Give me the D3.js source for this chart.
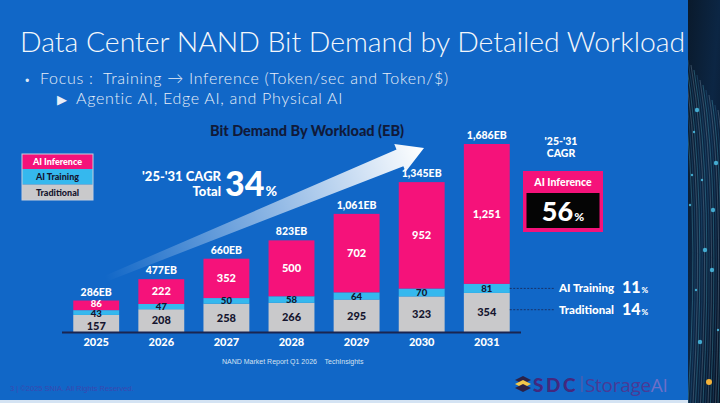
<!DOCTYPE html>
<html><head><meta charset="utf-8">
<script src="https://cdn.jsdelivr.net/npm/d3@7/dist/d3.min.js"></script>
<style>
html,body{margin:0;padding:0;background:#1167c7;overflow:hidden}
svg{display:block}
</style></head>
<body>
<svg id="c" width="720" height="403"></svg>
<script>
// ---- data ----
const years = ["2025","2026","2027","2028","2029","2030","2031"];
const traditional = [157,208,258,266,295,323,354];
const aiTraining = [43,47,50,58,64,70,81];
const aiInference = [86,222,352,500,702,952,1251];
const totalLabels = ["286EB","477EB","660EB","823EB","1,061EB","1,345EB","1,686EB"];
const seriesNames = ["Traditional","AI Training","AI Inference"];
const legendOrder = ["AI Inference","AI Training","Traditional"];
const cagrSeries = ["AI Training","Traditional"];
const cagrValues = [11,14];
const cagrInference = 56;
const cagrTotal = 34;

const colors = {"Traditional":"#c9c9cb","AI Training":"#35b8ee","AI Inference":"#f5127a"};
const textCol = {"Traditional":"#15152e","AI Training":"#15152e","AI Inference":"#ffffff"};
const BOLD = "Lato, 'Open Sans', sans-serif";

const svg = d3.select("#c");
const W = 720, H = 403;

// background
svg.append("rect").attr("width",W).attr("height",H).attr("fill","#1167c7");

// right decorative strip
const defs = svg.append("defs");
const sg = defs.append("linearGradient").attr("id","strip").attr("x1",0).attr("y1",0).attr("x2",1).attr("y2",1);
sg.append("stop").attr("offset","0%").attr("stop-color","#0a1a2c");
sg.append("stop").attr("offset","50%").attr("stop-color","#0c2644");
sg.append("stop").attr("offset","100%").attr("stop-color","#081426");
svg.append("rect").attr("x",688).attr("y",0).attr("width",32).attr("height",403).attr("fill","url(#strip)");
defs.append("clipPath").attr("id","stripClip").append("rect").attr("x",688).attr("y",0).attr("width",32).attr("height",403);
const strip = svg.append("g").attr("clip-path","url(#stripClip)");
for(let i=0;i<22;i++){
  strip.append("path")
    .attr("d",`M${676+i*3},${40+i*5} Q${702+i*2},${190} ${688+i*2.5},${403}`)
    .attr("fill","none").attr("stroke", i%3===0?"#5fd0e8":(i%3===1?"#3a7fb0":"#9bb6c8"))
    .attr("stroke-width",0.6).attr("opacity",0.5);
}
[[697,110],[694,132],[716,163],[702,180],[713,210],[690,205],[705,250],[696,290],[712,270],[718,330],[700,342],[692,175]].forEach((p,i)=>{
  strip.append("circle").attr("cx",p[0]).attr("cy",p[1]).attr("r",i%2?1.2:2.2).attr("fill","#4fc8f0").attr("opacity",0.8);
});
svg.append("circle").attr("cx",709).attr("cy",382).attr("r",3).attr("fill","#f4b23a");

// bottom light line
svg.append("rect").attr("x",0).attr("y",400).attr("width",688).attr("height",3).attr("fill","#d4e3f3");

// title
svg.append("text").attr("x",20).attr("y",52)
  .attr("font-family","Lato, sans-serif").attr("font-weight",300).attr("font-size",28.4)
  .attr("fill","#f4f7fb").text("Data Center NAND Bit Demand by Detailed Workload");
svg.append("text").attr("x",24).attr("y",84)
  .attr("font-family","Lato, sans-serif").attr("font-weight",300).attr("font-size",11)
  .attr("fill","#dfe8f4").text("•");
svg.append("text").attr("x",40).attr("y",84)
  .attr("font-family","Lato, sans-serif").attr("font-weight",300).attr("font-size",16).attr("letter-spacing",0.7)
  .attr("fill","#e8eef7").attr("xml:space","preserve").text("Focus :  Training → Inference (Token/sec and Token/$)");
svg.append("text").attr("x",57).attr("y",104)
  .attr("font-family","Lato, sans-serif").attr("font-weight",300).attr("font-size",13)
  .attr("fill","#e8eef7").text("▶");
svg.append("text").attr("x",76).attr("y",104)
  .attr("font-family","Lato, sans-serif").attr("font-weight",300).attr("font-size",16).attr("letter-spacing",0.7)
  .attr("fill","#e8eef7").text("Agentic AI, Edge AI, and Physical AI");

// chart title
svg.append("text").attr("x",307).attr("y",136).attr("text-anchor","middle")
  .attr("font-family",BOLD).attr("font-weight",900).attr("font-size",14.5)
  .attr("fill","#101a3a").text("Bit Demand By Workload (EB)");

// scales
const x = d3.scaleBand().domain(years).range([63.5,519.5]).paddingInner(0.295).paddingOuter(0.15);
const y = d3.scaleLinear().domain([0,1686]).range([332.5,144]);

// arrow (decorative)
const ag = defs.append("linearGradient").attr("id","arrowG").attr("gradientUnits","userSpaceOnUse")
  .attr("x1",105).attr("y1",278).attr("x2",423).attr("y2",149);
ag.append("stop").attr("offset","0%").attr("stop-color","#ffffff").attr("stop-opacity",0);
ag.append("stop").attr("offset","55%").attr("stop-color","#ffffff").attr("stop-opacity",0.55);
ag.append("stop").attr("offset","100%").attr("stop-color","#ffffff").attr("stop-opacity",1);
(function(){
  const x0=105,y0=279,x1=424,y1=148;
  const dx=x1-x0, dy=y1-y0, L=Math.hypot(dx,dy), ux=dx/L, uy=dy/L, nx=-uy, ny=ux;
  const headL=26, headW=15, w0=3, w1=9;
  const bx=x1-ux*headL, by=y1-uy*headL;
  const pts=[
    [x0+nx*w0,y0+ny*w0],[bx+nx*w1,by+ny*w1],[bx+nx*headW,by+ny*headW],[x1,y1],
    [bx-nx*headW,by-ny*headW],[bx-nx*w1,by-ny*w1],[x0-nx*w0,y0-ny*w0]];
  svg.append("path").attr("d","M"+pts.map(p=>p.join(",")).join("L")+"Z").attr("fill","url(#arrowG)");
})();

// stacked data
const table = years.map((yr,i)=>({year:yr,"Traditional":traditional[i],"AI Training":aiTraining[i],"AI Inference":aiInference[i]}));
const stacked = d3.stack().keys(seriesNames)(table);

const gBars = svg.append("g");
stacked.forEach(s=>{
  const key=s.key;
  gBars.selectAll(null).data(s).join("rect")
    .attr("x",d=>x(d.data.year)).attr("width",x.bandwidth())
    .attr("y",d=>y(d[1])).attr("height",d=>y(d[0])-y(d[1]))
    .attr("fill",colors[key]);
});
const segH = d=>y(d[0])-y(d[1]);
const cramped = d=>(y(0)-y(d.data["Traditional"]+d.data["AI Training"]+d.data["AI Inference"]))<40;
stacked.forEach(s=>{
  const key=s.key;
  gBars.selectAll(null).data(s).join("text")
    .attr("x",d=>x(d.data.year)+x.bandwidth()/2)
    .attr("y",d=>{
      let off=0;
      if(cramped(d)){
        off = key==="AI Inference"?-1.6:(key==="AI Training"?0.6:2.2);
      }
      return (y(d[0])+y(d[1]))/2+3.6+off;
    })
    .attr("text-anchor","middle")
    .attr("font-family",BOLD).attr("font-weight",900)
    .attr("font-size",d=>segH(d)<12?9.6:11)
    .attr("fill",textCol[key])
    .text(d=>d3.format(",")(d.data[key]));
});

// totals
svg.append("g").selectAll("text").data(years).join("text")
  .attr("x",d=>x(d)+x.bandwidth()/2)
  .attr("y",(d,i)=>y(traditional[i]+aiTraining[i]+aiInference[i])-5)
  .attr("text-anchor","middle")
  .attr("font-family",BOLD).attr("font-weight",900).attr("font-size",10.5)
  .attr("fill","#ffffff").text((d,i)=>totalLabels[i]);

// axis
const xAxis = d3.axisBottom(x).tickSize(0).tickPadding(6);
const ax = svg.append("g").attr("transform",`translate(0,${y(0)})`).call(xAxis);
ax.select(".domain").attr("d","M62,0H521").attr("stroke","#1a2550").attr("stroke-width",2);
ax.selectAll("text").attr("font-family",BOLD).attr("font-weight",900).attr("font-size",11).attr("fill","#ffffff");

// legend
const lg = svg.append("g").attr("transform","translate(22,154)");
const lh=[15,15.5,15.5];
let ly=0;
legendOrder.forEach((k,i)=>{
  lg.append("rect").attr("x",0).attr("y",ly).attr("width",71).attr("height",lh[i]).attr("fill",colors[k]);
  lg.append("text").attr("x",35.5).attr("y",ly+lh[i]/2+3.3).attr("text-anchor","middle")
    .attr("font-family",BOLD).attr("font-weight",900).attr("font-size",9)
    .attr("fill",textCol[k]).text(k);
  ly+=lh[i];
});
lg.append("rect").attr("x",0).attr("y",0).attr("width",71).attr("height",ly).attr("fill","none").attr("stroke","#c7cfdc").attr("stroke-width",1);

// CAGR total
svg.append("text").attr("x",221).attr("y",181).attr("text-anchor","end")
  .attr("font-family",BOLD).attr("font-weight",900).attr("font-size",13).attr("fill","#fff").text("'25-'31 CAGR");
svg.append("text").attr("x",221).attr("y",196).attr("text-anchor","end")
  .attr("font-family",BOLD).attr("font-weight",900).attr("font-size",13).attr("fill","#fff").text("Total");
const t34 = svg.append("text").attr("x",225).attr("y",196)
  .attr("font-family",BOLD).attr("font-weight",900).attr("fill","#fff");
t34.append("tspan").attr("font-size",34).text(cagrTotal);
t34.append("tspan").attr("font-size",14).attr("dx",1).text("%");

// right CAGR
svg.append("text").attr("x",561).attr("y",145).attr("text-anchor","middle")
  .attr("font-family",BOLD).attr("font-weight",900).attr("font-size",10.5).attr("fill","#fff").text("'25-'31");
svg.append("text").attr("x",561).attr("y",157).attr("text-anchor","middle")
  .attr("font-family",BOLD).attr("font-weight",900).attr("font-size",10.5).attr("fill","#fff").text("CAGR");
svg.append("rect").attr("x",523).attr("y",171).attr("width",80).attr("height",61).attr("fill",colors["AI Inference"]);
svg.append("rect").attr("x",526.5).attr("y",193).attr("width",73).attr("height",35).attr("fill","#050505");
svg.append("text").attr("x",563).attr("y",186).attr("text-anchor","middle")
  .attr("font-family",BOLD).attr("font-weight",900).attr("font-size",10.5).attr("fill","#fff").text("AI Inference");
const t56 = svg.append("text").attr("x",563).attr("y",221).attr("text-anchor","middle")
  .attr("font-family",BOLD).attr("font-weight",900).attr("fill","#fff");
t56.append("tspan").attr("font-size",27).text(cagrInference);
t56.append("tspan").attr("font-size",12).attr("dx",1).text("%");

// leader lines
const last = years.length-1;
const leadY = [
  y(traditional[last]+aiTraining[last]/2),
  y(traditional[last]/2)-3
];
cagrSeries.forEach((k,i)=>{
  svg.append("line").attr("x1",x(years[last])+x.bandwidth()).attr("x2",555)
    .attr("y1",leadY[i]).attr("y2",leadY[i])
    .attr("stroke","#1a2550").attr("stroke-width",0.8).attr("stroke-dasharray","2,1.5");
  svg.append("text").attr("x",559).attr("y",leadY[i]+4)
    .attr("font-family",BOLD).attr("font-weight",900).attr("font-size",11.5).attr("fill","#fff").text(k);
  const tt = svg.append("text").attr("x",622).attr("y",leadY[i]+5)
    .attr("font-family",BOLD).attr("font-weight",900).attr("fill","#fff");
  tt.append("tspan").attr("font-size",16).text(cagrValues[i]);
  tt.append("tspan").attr("font-size",8).attr("dx",1).text("%");
});

// source
svg.append("text").attr("x",222).attr("y",364)
  .attr("font-family","'Liberation Sans Narrow', 'Liberation Sans', sans-serif").attr("font-size",7)
  .attr("fill","#d5e2f2").attr("xml:space","preserve").text("NAND Market Report Q1 2026    TechInsights");
// copyright
svg.append("text").attr("x",10).attr("y",391)
  .attr("font-family","'Liberation Sans Narrow', 'Liberation Sans', sans-serif").attr("font-size",7.5)
  .attr("fill","#3a48b0").text("3 | ©2025 SNIA. All Rights Reserved.");

// logo
const logo = svg.append("g");
[[0,"#2b2146"],[4,"#f2c84b"],[8,"#2b2146"]].forEach((d,i)=>{
  logo.append("path").attr("d",`M515,${380+d[0]} L523,${376+d[0]} L531,${380+d[0]} L523,${384+d[0]} Z`).attr("fill",d[1]);
});
logo.append("text").attr("x",533).attr("y",392)
  .attr("font-family",BOLD).attr("font-weight",900).attr("font-size",19).attr("letter-spacing",2.5)
  .attr("fill","#43287e").text("SDC");
logo.append("line").attr("x1",582).attr("x2",582).attr("y1",376).attr("y2",392).attr("stroke","#6a5aa8").attr("stroke-width",1);
const sa = logo.append("text").attr("x",585).attr("y",392)
  .attr("font-family","'Open Sans', sans-serif").attr("font-weight",500).attr("font-size",19).attr("letter-spacing",-0.3).attr("fill","#4a3a96");
sa.append("tspan").text("Storage");
sa.append("tspan").attr("fill","#6d6fc8").text("AI");
</script>
</body></html>
